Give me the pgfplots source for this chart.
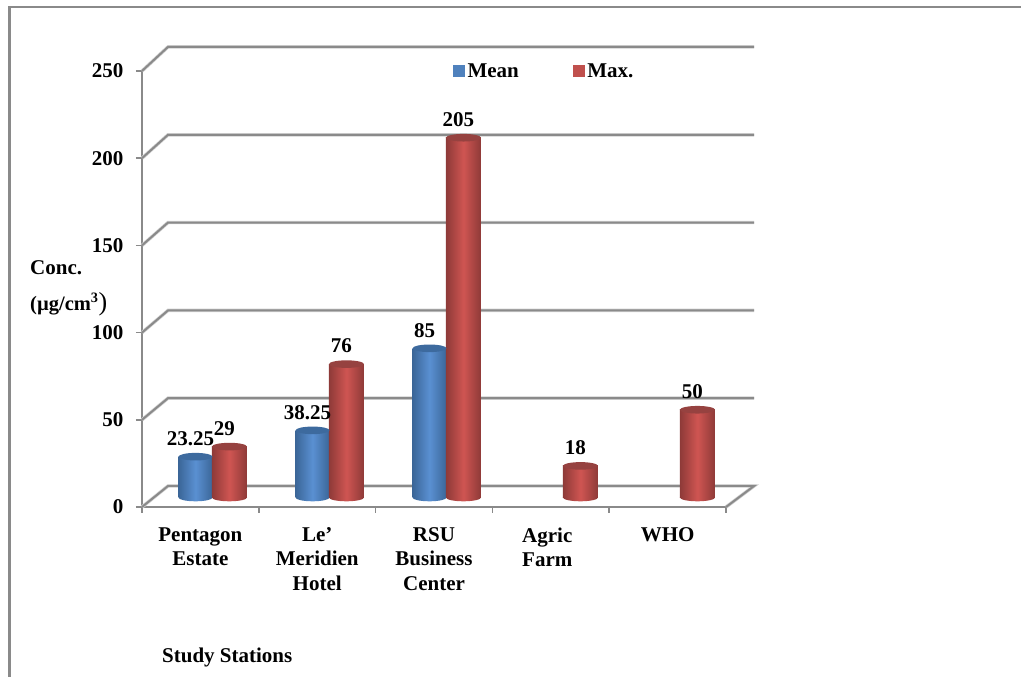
\documentclass[border=0pt]{standalone}
\usepackage{fontspec}
\setmainfont{Liberation Serif}
\usepackage{pgfplots}
\usepackage{pgfplotstable}
\pgfplotsset{compat=1.18}

\definecolor{rulegray}{HTML}{8A8A8A}
\definecolor{meanflat}{HTML}{4F81BD}
\definecolor{meanedge}{HTML}{3B6698}
\definecolor{meanlight}{HTML}{5A90D2}
\definecolor{meancap}{HTML}{3D6A9E}
\definecolor{maxflat}{HTML}{C0504D}
\definecolor{maxedge}{HTML}{8E3A38}
\definecolor{maxlight}{HTML}{CF5552}
\definecolor{maxcap}{HTML}{964240}

% cylinder ends, drawn as tilted ellipses
\pgfdeclareplotmark{meanbase}{\path[draw=none,rotate=3,left color=meanedge,right color=meanedge,middle color=meanlight] (0pt,0pt) ellipse (17pt and 3.8pt);}
\pgfdeclareplotmark{meantop}{\path[draw=none,rotate=3,fill=meancap] (0pt,0pt) ellipse (17pt and 3.8pt);}
\pgfdeclareplotmark{maxbase}{\path[draw=none,rotate=3,left color=maxedge,right color=maxedge,middle color=maxlight] (0pt,0pt) ellipse (17.5pt and 3.8pt);}
\pgfdeclareplotmark{maxtop}{\path[draw=none,rotate=3,fill=maxcap] (0pt,0pt) ellipse (17.5pt and 3.8pt);}

% station position (with the side-by-side offset), value, floor level
\pgfplotstableread{
x       val    floor
-0.145  23.25  0
0.855   38.25  0
1.855   85     0
}\meandata
\pgfplotstableread{
x       val    floor
0.145   29     0
1.145   76     0
2.145   205    0
3.145   18     0
4.145   50     0
}\maxdata

\newcommand{\chartfont}{\bfseries\fontsize{21}{24.5}\selectfont}

\begin{document}
\begin{tikzpicture}
\path[use as bounding box] (0,0) rectangle (1021pt,677pt);

% outer frame
\draw[rulegray,line width=2.2pt] (9.5pt,0pt) -- (9.5pt,670.3pt) -- (1021pt,670.3pt);

% walls, floor and value axis
\begin{axis}[
  at={(142pt,170pt)},anchor=south west,
  scale only axis,width=584pt,height=436pt,
  clip=false,
  xmin=-0.5,xmax=4.5,ymin=0,ymax=250,
  axis x line*=bottom,axis y line*=left,
  axis line style={rulegray,line width=2pt},
  ytick={0,50,100,150,200,250},
  xtick={0,1,2,2.97,4},
  xticklabels={{Pentagon\\Estate},{Le’\\Meridien\\Hotel},{RSU\\Business\\Center},{Agric\\Farm},{WHO}},
  minor xtick={-0.5,0.5,1.5,2.5,3.5,4.5},
  tick align=outside,
  major tick length=6pt,minor tick length=6pt,
  major x tick style={draw=none},
  minor x tick style={rulegray,line width=1.5pt},
  y tick style={rulegray,line width=1.5pt},
  x tick label style={font=\chartfont,align=center,yshift=-11pt},
  y tick label style={font=\chartfont,/pgf/number format/assume math mode=true,xshift=-9pt},
  wall/.style={rulegray,line width=2pt,forget plot,preaction={draw=rulegray!40,line width=3.4pt}},
]
\addplot[wall] coordinates {(-0.5,0) (-0.2774,12.04) (4.74,12.04) (4.5,0)};
\addplot[wall] coordinates {(-0.5,50) (-0.2774,62.4) (4.74,62.4)};
\addplot[wall] coordinates {(-0.5,100) (-0.2774,112.7) (4.74,112.7)};
\addplot[wall] coordinates {(-0.5,150) (-0.2774,163.1) (4.74,163.1)};
\addplot[wall] coordinates {(-0.5,200) (-0.2774,213.4) (4.74,213.4)};
\addplot[wall] coordinates {(-0.5,250) (-0.2774,263.8) (4.74,263.8)};
\end{axis}

% cylinders
\begin{axis}[
  at={(154pt,179.5pt)},anchor=south west,
  scale only axis,width=585pt,height=438.75pt,
  clip=false,hide axis,
  xmin=-0.5,xmax=4.5,ymin=0,ymax=250,
  legend cell align=left,
  legend columns=2,
  legend image code/.code={\fill[#1] (0pt,-5.5pt) rectangle (11pt,5.5pt);},
  legend style={at={(0.511,0.972)},anchor=west,draw=none,fill=none,inner sep=0pt,
    font=\chartfont,/tikz/column 1/.style={column sep=1pt},/tikz/column 2/.style={column sep=52pt},
    /tikz/column 3/.style={column sep=1pt}},
  nodes near coords style={font=\chartfont,anchor=center,xshift=-5pt,yshift=18pt,
    /pgf/number format/assume math mode=true,/pgf/number format/precision=2,text=black},
  cyl/.style n args={3}{ybar,bar shift=0pt,bar width=#1pt,draw=none,
    left color=#2,right color=#2,middle color=#3,forget plot},
  row/.style n args={2}{skip coords between index={0}{#1},skip coords between index={#2}{9}},
  meanbar/.style={cyl={34}{meanedge}{meanlight}},
  maxbar/.style={cyl={35}{maxedge}{maxlight}},
]
\addlegendimage{meanflat}\addlegendentry{Mean}
\addlegendimage{maxflat}\addlegendentry{Max.}

% each bar is plotted on its own so that it carries its own shading
\addplot[only marks,mark=meanbase,forget plot] table[x=x,y=floor] {\meandata};
\addplot[meanbar,row={0}{1}] table[x=x,y=val] {\meandata};
\addplot[meanbar,row={1}{2}] table[x=x,y=val] {\meandata};
\addplot[meanbar,row={2}{3}] table[x=x,y=val] {\meandata};
\addplot[only marks,mark=meantop,forget plot,nodes near coords] table[x=x,y=val] {\meandata};

\addplot[only marks,mark=maxbase,forget plot] table[x=x,y=floor] {\maxdata};
\addplot[maxbar,row={0}{1}] table[x=x,y=val] {\maxdata};
\addplot[maxbar,row={1}{2}] table[x=x,y=val] {\maxdata};
\addplot[maxbar,row={2}{3}] table[x=x,y=val] {\maxdata};
\addplot[maxbar,row={3}{4}] table[x=x,y=val] {\maxdata};
\addplot[maxbar,row={4}{5}] table[x=x,y=val] {\maxdata};
\addplot[only marks,mark=maxtop,forget plot,nodes near coords] table[x=x,y=val] {\maxdata};
\end{axis}

% axis titles
\node[font=\chartfont,anchor=west,inner sep=0pt] at (30pt,409pt) {Conc.};
\node[font=\chartfont,anchor=west,inner sep=0pt] at (30pt,373pt) {\fontsize{20.5}{24}\selectfont(µg/cm\textsuperscript{3}{\fontsize{26}{24}\selectfont\mdseries)}};
\node[font=\chartfont,anchor=west,inner sep=0pt] at (162pt,20pt) {Study Stations};
\end{tikzpicture}
\end{document}
